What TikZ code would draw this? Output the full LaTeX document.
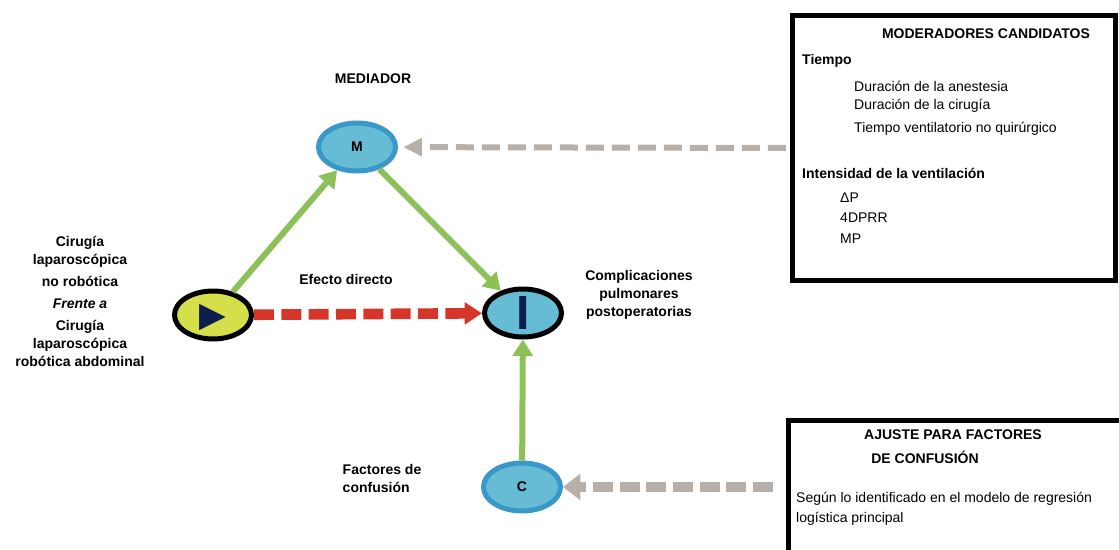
\documentclass[tikz,border=0pt]{standalone}
\usepackage{fontspec}
\setmainfont{Liberation Sans}
\newfontfamily\simbolos{DejaVu Sans}
\usetikzlibrary{shapes.geometric, arrows.meta}

\definecolor{azulrelleno}{HTML}{65BCD4}
\definecolor{azulborde}{HTML}{3A98C9}
\definecolor{amarillo}{HTML}{D4DF4A}
\definecolor{verde}{HTML}{8CC15A}
\definecolor{rojo}{HTML}{D6352A}
\definecolor{gris}{HTML}{B7AFAA}
\definecolor{marino}{HTML}{0C1E4B}

\newcommand{\glifo}[1]{\raisebox{-0.5\height}[0pt][0pt]{#1}}

\begin{document}
\begin{tikzpicture}[x=0.75pt, y=-0.75pt,
    every node/.style={font=\fontsize{10.5}{13.5}\selectfont\bfseries},
    texto/.style={font=\fontsize{10.5}{13.5}\selectfont},
    nodo/.style={draw, ellipse, fill=azulrelleno, line width=3.75pt, minimum width=57.75pt, minimum height=36pt, inner sep=0pt},
    caja/.style={draw, line width=3.75pt, inner sep=0pt},
    flechaverde/.style={line width=4.5pt, verde, -{Triangle[length=12.5pt, width=15pt]}},
    flecharoja/.style={line width=8pt, rojo, dash pattern=on 15pt off 5.5pt, -{Triangle[length=13pt, width=16pt]}},
    flechagris/.style={line width=4.5pt, gris, dash pattern=on 13.5pt off 6pt, -{Triangle[length=14pt, width=13pt]}}
]
    \useasboundingbox (0,0) rectangle (1119,549);

    % Nodos del triangulo
    \node[nodo, draw=azulborde] (M) at (357,147) {M};
    \node[nodo, fill=amarillo, draw=black] (P) at (213,315) {\glifo{\color{marino}\simbolos\fontsize{26}{26}\selectfont ▶}};
    \node[nodo, draw=black] (I) at (523,313) {\glifo{\color{marino}\fontsize{36}{36}\selectfont\bfseries I}};
    \node[nodo, draw=azulborde] (C) at (522,487) {C};

    % Textos
    \node (mediador) at (373,79) {MEDIADOR};
    \node (efecto) at (346,279) {Efecto directo};
    \node[align=center] (tratamiento) at (80,301) {Cirugía\\laparoscópica\\[3.5pt] no robótica\\[3pt] \textit{Frente a}\\[2.5pt] Cirugía\\laparoscópica\\robótica abdominal};
    \node[align=center] (resultado) at (639,295) {Complicaciones\\pulmonares\\postoperatorias};
    \node[align=left, anchor=west] (confusores) at (338,478) {Factores de\\confusión};

    % Caja de moderadores
    \node[caja, minimum width=242.6pt, minimum height=198.75pt] (mod) at (954,148) {};
    \node (modtitulo) at (986,34) {MODERADORES CANDIDATOS};
    \node[anchor=west] (tiempo) at (797.5,61) {Tiempo};
    \node[texto, align=left, anchor=west] (tiempolista) at (849.5,108) {Duración de la anestesia\\Duración de la cirugía\\[4pt] Tiempo ventilatorio no quirúrgico};
    \node[anchor=west] (intensidad) at (797.5,173) {Intensidad de la ventilación};
    \node[texto, align=left, anchor=west, font=\fontsize{10.5}{15.4}\selectfont] (intensidadlista) at (835.5,218) {ΔP\\4DPRR\\MP};

    % Caja de ajuste
    \node[caja, minimum width=260pt, minimum height=104.6pt] (conf) at (962,490) {};
    \node (conftitulo) at (953,435) {AJUSTE PARA FACTORES};
    \node (conftitulob) at (925,457) {DE CONFUSIÓN};
    \node[texto, align=left, anchor=west, font=\fontsize{10.5}{15}\selectfont] (conftexto) at (791.5,509) {Según lo identificado en el modelo de regresión\\logística principal};

    % Flechas
    \draw[flechaverde] (P) -- (M);
    \draw[flechaverde] (M) -- (I);
    \draw[flechaverde] (C) -- (I);
    \draw[flecharoja] (P) -- (I);
    \draw[flechagris, shorten <=3pt, shorten >=4pt] (mod.west) -- (M);
    \draw[flechagris, line width=7.5pt, dash pattern=on 15pt off 5pt, -{Triangle[length=13pt, width=19pt]}, shorten <=10pt] (conf.west |- C) -- (C);
\end{tikzpicture}
\end{document}
